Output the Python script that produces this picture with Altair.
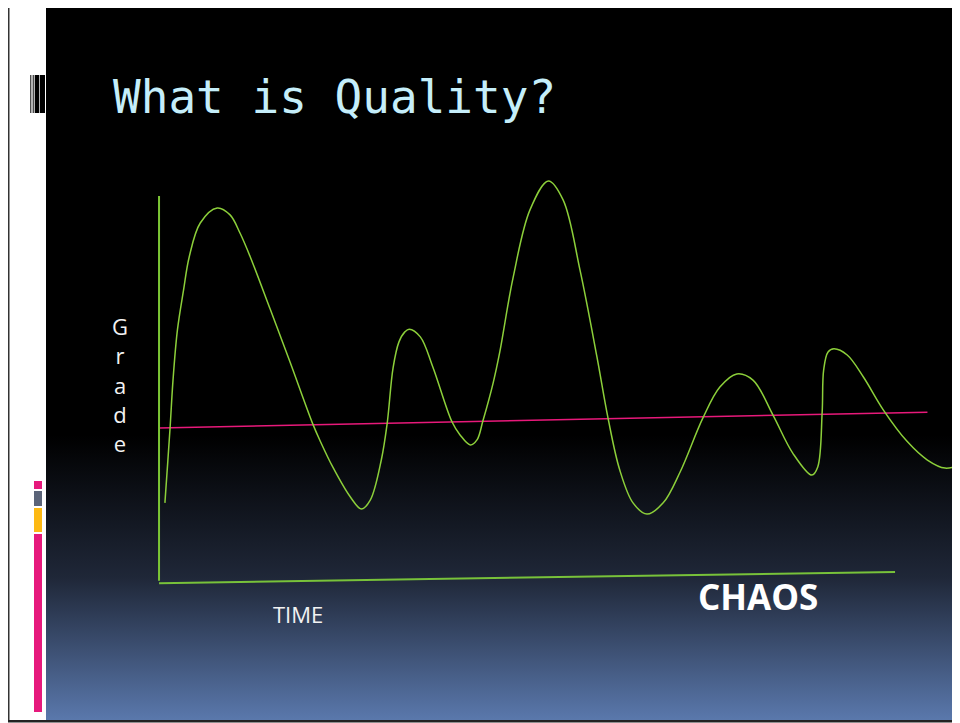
import altair as alt
import pandas as pd

# ---- data (time 0..100 along the TIME axis, grade 0..100 up the Grade axis)
curve_time = [0.8, 1.5, 1.9, 2.5, 3.33, 4.1, 5.6, 7.9, 9.65, 11.0, 12.4, 15.1, 17.8, 20.9, 21.9,
              23.6, 26.0, 27.5, 28.7, 30.2, 31.0, 31.8, 32.6, 33.4, 34.0, 35.5, 37.2, 39.8, 40.9, 42.3,
              43.2, 44.0, 45.4, 46.3, 48.1, 50.4, 52.9, 54.9, 57.2, 59.5, 61.0, 62.6, 64.4, 66.3,
              68.5, 70.8, 73.9, 76.2, 78.5, 80.7, 83.4, 86.1, 88.7, 89.5, 90.1, 90.3, 90.9, 91.7,
              93.5, 95.7, 98.4, 101.6, 104.4, 106.8, 108.8]
curve_grade = [20.5, 39.9, 52.3, 65.3, 75.6, 84.2, 93.0, 96.9, 95.1, 90.4, 84.2, 70.7, 57.0, 40.9, 36.5,
               29.8, 22.0, 18.9, 21.2, 31.6, 41.1, 55.5, 62.2, 64.8, 65.5, 63.5, 55.7, 41.5, 38.1, 35.5,
               36.8, 41.7, 51.6, 59.6, 78.8, 96.4, 103.9, 99.0, 80.8, 58.3, 42.5, 29.0, 20.5, 17.6,
               20.5, 28.5, 42.5, 50.5, 53.9, 52.3, 43.3, 33.4, 27.7, 29.8, 44.0, 54.9, 59.6, 60.4,
               58.8, 53.1, 44.6, 36.5, 31.6, 29.5, 30.3]

trend_time = [0.0, 104.4]
trend_grade = [39.9, 44.0]

xaxis_time = [0.0, 100.0]
xaxis_grade = [-0.3, 2.6]

yaxis_time = [0.0]
yaxis_grade_top = [100.0]
yaxis_grade_bottom = [0.3]

title_text = "What is Quality?"
ylabel_lines = ["G", "r", "a", "d", "e"]
xlabel_text = "TIME"
chaos_text = "CHAOS"

# ---- scales
W, H = 944, 715
xs = alt.Scale(domain=[-20.52, 107.74], nice=False, zero=False)
ys = alt.Scale(domain=[-36.53, 148.70], nice=False, zero=False)

one = pd.DataFrame({"k": [0]})


def rect(x, x2, y, y2, color):
    return alt.Chart(one).mark_rect(color=color).encode(
        x=alt.value(x), x2=alt.value(x2), y=alt.value(y), y2=alt.value(y2))


bg = alt.Chart(one).mark_rect(
    color=alt.LinearGradient(
        gradient="linear",
        stops=[alt.GradientStop(offset=0, color="#000000"),
               alt.GradientStop(offset=0.6, color="#000000"),
               alt.GradientStop(offset=0.8, color="#1f2738"),
               alt.GradientStop(offset=1, color="#5a78ac")],
        x1=0, x2=0, y1=0, y2=1)
).encode(x=alt.value(38), x2=alt.value(W), y=alt.value(0), y2=alt.value(712))

borders = [
    rect(0, 1.5, 0, 714, "#333333"),
    rect(0, W, 712, 714.5, "#222222"),
]

barcode = [
    rect(22, 22.7, 67, 105, "#000000"),
    rect(23.7, 24.3, 67, 105, "#000000"),
    rect(25.3, 26.3, 67, 105, "#000000"),
    rect(27, 31.3, 67, 105, "#000000"),
    rect(32, 37, 67, 105, "#000000"),
]

side_bars = [
    rect(26, 34, 473, 481, "#e6197c"),
    rect(26, 34, 483, 498, "#5b6479"),
    rect(26, 34, 500, 524, "#fdb913"),
    rect(26, 34, 526, 704, "#e6197c"),
]

curve_df = pd.DataFrame({"time": curve_time, "grade": curve_grade})
curve = alt.Chart(curve_df).mark_line(
    color="#8ccf3a", strokeWidth=1.5, interpolate="catmull-rom", clip=True
).encode(
    x=alt.X("time:Q", scale=xs, axis=None),
    y=alt.Y("grade:Q", scale=ys, axis=None),
    order="time:Q",
)

trend_df = pd.DataFrame({"time": trend_time, "grade": trend_grade})
trend = alt.Chart(trend_df).mark_line(color="#e8197a", strokeWidth=1.5).encode(
    x=alt.X("time:Q", scale=xs, axis=None),
    y=alt.Y("grade:Q", scale=ys, axis=None),
)

xaxis_df = pd.DataFrame({"time": xaxis_time, "grade": xaxis_grade})
xaxis_line = alt.Chart(xaxis_df).mark_line(color="#78c23a", strokeWidth=2).encode(
    x=alt.X("time:Q", scale=xs, axis=None),
    y=alt.Y("grade:Q", scale=ys, axis=None),
)

yaxis_df = pd.DataFrame({"time": yaxis_time, "top": yaxis_grade_top, "bottom": yaxis_grade_bottom})
yaxis_line = alt.Chart(yaxis_df).mark_rule(color="#7cc635", strokeWidth=2).encode(
    x=alt.X("time:Q", scale=xs, axis=None),
    y=alt.Y("top:Q", scale=ys, axis=None),
    y2="bottom:Q",
)

title = alt.Chart(one).mark_text(
    text=title_text, font="DejaVu Sans Mono", fontSize=46, color="#c5eefa",
    align="left", baseline="alphabetic"
).encode(x=alt.value(105), y=alt.value(105))

ylabel = alt.Chart(one).mark_text(
    text=ylabel_lines, font="Open Sans", fontSize=22, color="#f2f2f2",
    align="center", baseline="alphabetic", lineHeight=29.3
).encode(x=alt.value(112), y=alt.value(327))

xlabel = alt.Chart(one).mark_text(
    text=xlabel_text, font="Open Sans", fontSize=22, color="#f2f2f2",
    align="left", baseline="alphabetic"
).encode(x=alt.value(265), y=alt.value(615))

chaos = alt.Chart(one).mark_text(
    text=chaos_text, font="Open Sans", fontSize=35, fontWeight="bold", color="#ffffff",
    align="left", baseline="alphabetic"
).encode(x=alt.value(690), y=alt.value(602))

chart = alt.layer(
    bg, *borders, *barcode, *side_bars,
    trend, xaxis_line, yaxis_line, curve,
    title, ylabel, xlabel, chaos,
).properties(
    width=W, height=H, padding=0, background="white",
    autosize=alt.AutoSizeParams(type="none"),
).configure_view(stroke=None)

chart.save("out.html", embed_options={"renderer": "svg", "actions": False})
